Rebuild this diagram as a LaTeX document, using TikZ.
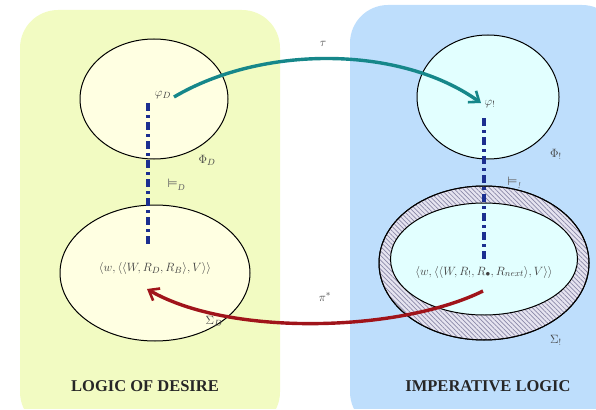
\documentclass[tikz,border=0pt]{standalone}
\usepackage{fontspec}
\setmainfont{Liberation Serif}
\newfontfamily\symbfont{DejaVu Sans}
\usetikzlibrary{shapes.geometric,patterns.meta,arrows.meta}
\definecolor{desireBG}{HTML}{F2FBC2}
\definecolor{impBG}{HTML}{BEDEFC}
\definecolor{desireIn}{HTML}{FFFFE2}
\definecolor{impIn}{HTML}{E2FFFF}
\definecolor{tealA}{HTML}{16878A}
\definecolor{redA}{HTML}{A0141A}
\definecolor{dashBlue}{HTML}{1C2F90}
\definecolor{ringBG}{HTML}{E6E4F0}
\definecolor{ringLine}{HTML}{8A88A8}
\newcommand{\entsym}[1]{{\symbfont\fontsize{12}{14}\selectfont ⊨}\kern0.5pt\raisebox{-2.5pt}{\fontsize{9}{10}\selectfont\itshape #1}}
\tikzset{
  region/.style={ellipse, draw=black, line width=1pt, inner sep=0pt},
  lbl/.style={font=\fontsize{13}{15}\selectfont, text=black!75, inner sep=1pt},
  entail/.style={draw=dashBlue, line width=3.4pt, dash pattern=on 8pt off 4pt on 3pt off 4pt},
  title/.style={font=\fontsize{16.5}{19}\selectfont\bfseries, text=black!85},
  arr/.style={line width=3.4pt, -{Straight Barb[length=9pt,width=14pt,line width=2.6pt]}},
}
\begin{document}
\begin{tikzpicture}[x=1pt,y=-1pt]
\useasboundingbox (0,0) rectangle (596,409);
% background panels
\fill[desireBG, rounded corners=38pt] (20,10) rectangle (280,430);
\fill[impBG, rounded corners=38pt] (350,5) rectangle (620,430);
\fill[white] (0,409) rectangle (596,440);
% left ellipses
\node[region, fill=desireIn, minimum width=148pt, minimum height=120pt] (PhiDset) at (154,99) {};
\node[region, fill=desireIn, minimum width=190pt, minimum height=136pt] (SigDset) at (155,273) {};
% right ellipses
\node[region, fill=impIn, minimum width=142pt, minimum height=124pt] (PhiIset) at (488,97) {};
\node[region, fill=ringBG, minimum width=210pt, minimum height=154pt] (ringOut) at (484,263) {};
\node[ellipse, inner sep=0pt, minimum width=210pt, minimum height=154pt,
      pattern={Lines[angle=135, distance=3.2pt, line width=0.7pt]}, pattern color=ringLine] (ringPat) at (484,263) {};
\node[region, minimum width=210pt, minimum height=154pt] (ringEdge) at (484,263) {};
\node[region, fill=impIn, minimum width=187pt, minimum height=112pt] (SigIset) at (484,259) {};
% labels
\node[lbl] (phiD) at (163,95) {$\varphi_{D}$};
\node[lbl] (PhiD) at (207,160) {$\Phi_{D}$};
\node[lbl, text=black!60] (entD) at (176,185) {\entsym{D}};
\node[lbl] (tupD) at (155,268) {$\bigl\langle w,\bigl\langle\bigl\langle W,R_{D},R_{B}\bigr\rangle,V\bigr\rangle\bigr\rangle$};
\node[lbl] (SigD) at (214,321) {$\Sigma_{D}$};
\node[lbl] (phiI) at (490,104) {$\varphi_{!}$};
\node[lbl] (PhiI) at (556,154) {$\Phi_{!}$};
\node[lbl, text=black!60] (entI) at (514,183) {\entsym{!}};
\node[lbl] (tupI) at (484,272) {$\bigl\langle w,\bigl\langle\bigl\langle W,R_{!},R_{\bullet},R_{next}\bigr\rangle,V\bigr\rangle\bigr\rangle$};
\node[lbl] (SigI) at (556,340) {$\Sigma_{!}$};
\node[lbl] (tau) at (323,44) {$\tau$};
\node[lbl] (pist) at (325,297) {$\pi^{*}$};
\node[title] (tD) at (145,386) {LOGIC OF DESIRE};
\node[title] (tI) at (488,386) {IMPERATIVE LOGIC};
% entailment lines
\coordinate (dDtop) at (148,103);
\coordinate (dDbot) at (148,246);
\coordinate (dItop) at (484,118);
\coordinate (dIbot) at (484,262);
\draw[entail] (dDtop) -- (dDbot);
\draw[entail] (dItop) -- (dIbot);
% arrows
\coordinate (tauS) at (174,97);
\coordinate (tauE) at (481,103);
\draw[tealA, arr] (tauS) .. controls (262,45) and (400,45) .. (tauE);
\coordinate (piS) at (483,291);
\coordinate (piE) at (147,289);
\draw[redA, arr] (piS) .. controls (400,332) and (230,337) .. (piE);
\end{tikzpicture}
\end{document}
